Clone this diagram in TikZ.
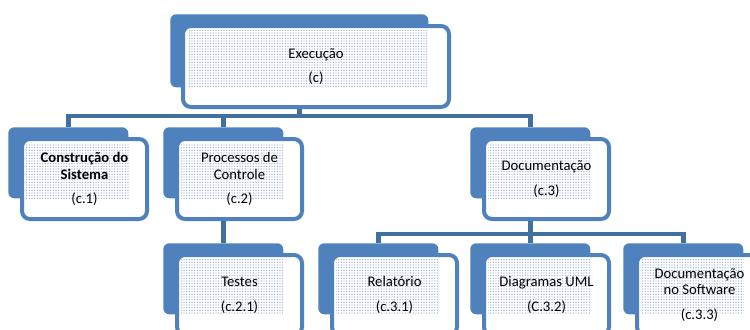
\documentclass[tikz,border=0pt]{standalone}
\usepackage{fontspec}
\setmainfont{Carlito}
\usetikzlibrary{patterns}
\definecolor{boxblue}{HTML}{4F81BD}
\definecolor{linkblue}{HTML}{41709F}
\definecolor{dotblue}{HTML}{9DB5D8}
\pgfdeclarepatternformonly{finedots}{\pgfqpoint{-1pt}{-1pt}}{\pgfqpoint{1pt}{1pt}}{\pgfqpoint{2pt}{2pt}}{%
  \pgfpathcircle{\pgfpointorigin}{.55pt}\pgfusepath{fill}}
\tikzset{
  backbox/.style={fill=boxblue, rounded corners=4.5pt, minimum width=90pt, minimum height=53.25pt,
    anchor=north west, inner sep=0pt},
  frontbox/.style={draw=boxblue, fill=white, line width=3pt, rounded corners=6pt,
    minimum width=93.75pt, minimum height=60pt, anchor=north west, inner sep=0pt, align=center,
    font=\fontsize{11pt}{12.5pt}\selectfont,
    path picture={\fill[pattern=finedots, pattern color=dotblue, sharp corners]
      ([shift={(3pt,-3pt)}]path picture bounding box.north west) rectangle (#1.south east);}},
  link/.style={draw=linkblue, line width=3.5pt},
}
\begin{document}
\begin{tikzpicture}[x=0.75pt,y=-0.75pt]
  \useasboundingbox (0,0) rectangle (750,329);
  \clip (0,0) rectangle (750,329);
  % blue cards behind the boxes
  \node[backbox, minimum width=193.5pt, minimum height=54.75pt] (execb) at (170,14) {};
  \node[backbox] (c1b) at (8,127) {};
  \node[backbox] (c2b) at (163,127) {};
  \node[backbox] (c3b) at (470,127) {};
  \node[backbox] (c21b) at (163,243) {};
  \node[backbox] (c31b) at (318,243) {};
  \node[backbox] (c32b) at (470,243) {};
  \node[backbox] (c33b) at (623,243) {};
  % the boxes themselves
  \node[frontbox=execb, minimum width=199.5pt, minimum height=60.75pt] (exec) at (181,24) {Execução\\[6pt](c)};
  \node[frontbox=c1b] (c1) at (20,137) {\textbf{Construção do}\\\textbf{Sistema}\\[6pt](c.1)};
  \node[frontbox=c2b] (c2) at (175,137) {Processos de\\Controle\\[6pt](c.2)};
  \node[frontbox=c3b] (c3) at (482,137) {Documentação\\[6pt](c.3)};
  \node[frontbox=c21b] (c21) at (175,253) {Testes\\[6pt](c.2.1)};
  \node[frontbox=c31b] (c31) at (330,253) {Relatório\\[6pt](c.3.1)};
  \node[frontbox=c32b] (c32) at (482,253) {Diagramas UML\\[6pt](C.3.2)};
  \node[frontbox=c33b] (c33) at (635,253) {Documentação\\no Software\\[6pt](c.3.3)};
  % connectors
  \draw[link] (execb.south |- exec.south) -- ++(0,7) -| (c1b.north);
  \draw[link] (execb.south |- exec.south) -- ++(0,7) -| (c2b.north);
  \draw[link] (execb.south |- exec.south) -- ++(0,7) -| (c3b.north);
  \draw[link] (c2b.south |- c2.south) -- (c21b.north);
  \draw[link] (c3b.south |- c3.south) -- ++(0,13) -| (c31b.north);
  \draw[link] (c3b.south |- c3.south) -- ++(0,13) -| (c32b.north);
  \draw[link] (c3b.south |- c3.south) -- ++(0,13) -| (c33b.north);
\end{tikzpicture}
\end{document}
